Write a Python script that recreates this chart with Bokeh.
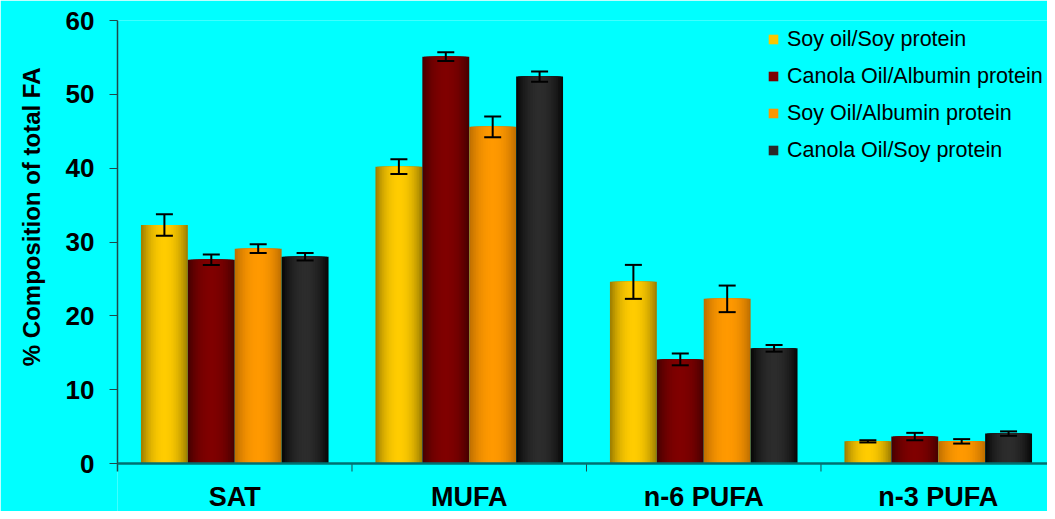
import numpy as np
from bokeh.plotting import figure
from bokeh.models import (ColumnDataSource, Range1d, FixedTicker, Whisker, TeeHead,
                          Legend, LegendItem, Span, Title)
from bokeh.core.properties import value
from bokeh.embed import file_html
from bokeh.resources import INLINE

categories = ["SAT", "MUFA", "n-6 PUFA", "n-3 PUFA"]
series_names = ["Soy oil/Soy protein", "Canola Oil/Albumin protein",
                "Soy Oil/Albumin protein", "Canola Oil/Soy protein"]

soy_soy = [32.3, 40.2, 24.6, 3.0]
soy_soy_err = [1.45, 1.0, 2.3, 0.15]
canola_albumin = [27.6, 55.1, 14.1, 3.65]
canola_albumin_err = [0.7, 0.6, 0.8, 0.5]
soy_albumin = [29.1, 45.6, 22.3, 3.0]
soy_albumin_err = [0.6, 1.4, 1.8, 0.3]
canola_soy = [28.0, 52.4, 15.6, 4.05]
canola_soy_err = [0.5, 0.7, 0.45, 0.3]

y_ticks = [0, 10, 20, 30, 40, 50, 60]

values = [soy_soy, canola_albumin, soy_albumin, canola_soy]
errors = [soy_soy_err, canola_albumin_err, soy_albumin_err, canola_soy_err]
# (edge colour, centre colour) for the horizontal bar gradient
shades = [((160, 128, 0), (255, 204, 0)),
          ((72, 0, 0), (128, 0, 0)),
          ((192, 112, 0), (255, 153, 0)),
          ((8, 8, 8), (44, 44, 44))]

FONT = "Liberation Sans"
BG = "#00FFFF"
AXIS_COL = "#204848"

# layout in pixels: frame top, pixel row of the zero line, figure height
W, H = 1047, 511
TOP, ZERO = 20, 463
ppu = (ZERO - TOP) / 60.0          # pixels per y unit
y_start = -(H - ZERO) / ppu        # frame extends below zero to hold the category names

p = figure(width=W, height=H, output_backend="svg", toolbar_location=None,
           x_range=Range1d(0, 3.966), y_range=Range1d(y_start, 60),
           min_border_left=116, min_border_right=0, min_border_top=TOP,
           min_border_bottom=0, background_fill_color=BG,
           border_fill_color=BG, outline_line_color=None, x_axis_location=None)
p.xgrid.visible = False
p.ygrid.visible = False

bar_w = 0.2
n_layers = 14
legend_items = []
for i, (vals, errs, (edge, centre), name) in enumerate(zip(values, errors, shades, series_names)):
    off = (i - 1.5) * bar_w
    xs, ws, tops, cols = [], [], [], []
    for k in range(n_layers):
        d = 1 - k / n_layers
        g = 1 - d ** 2.2
        col = "#%02x%02x%02x" % tuple(int(round(e + (m - e) * g)) for e, m in zip(edge, centre))
        for c, v in enumerate(vals):
            xs.append(c + 0.5 + off)
            ws.append(bar_w * d)
            tops.append(v)
            cols.append(col)
    src = ColumnDataSource(dict(x=xs, w=ws, top=tops, color=cols))
    r = p.vbar(x="x", top="top", bottom=0, width="w", fill_color="color",
               line_color=None, source=src)
    legend_items.append(LegendItem(label=name, renderers=[r], index=(n_layers - 4) * 4))

    wsrc = ColumnDataSource(dict(
        base=[c + 0.5 + off for c in range(4)],
        upper=[v + e for v, e in zip(vals, errs)],
        lower=[v - e for v, e in zip(vals, errs)]))
    w = Whisker(base="base", upper="upper", lower="lower", source=wsrc,
                line_color="black", line_width=2, level="annotation",
                upper_head=TeeHead(size=17, line_width=2, line_color="black"),
                lower_head=TeeHead(size=17, line_width=2, line_color="black"))
    p.add_layout(w)

# y axis
p.yaxis.ticker = FixedTicker(ticks=y_ticks)
p.yaxis.bounds = (-8 / ppu, 60)
p.yaxis.minor_tick_line_color = None
p.yaxis.major_tick_out = 8
p.yaxis.major_tick_in = 0
p.yaxis.major_tick_line_color = AXIS_COL
p.yaxis.axis_line_color = AXIS_COL
p.yaxis.axis_line_width = 1.5
p.yaxis.major_label_text_font = FONT
p.yaxis.major_label_text_font_style = "bold"
p.yaxis.major_label_text_font_size = "26px"
p.yaxis.major_label_text_color = "black"
p.yaxis.major_label_standoff = 15

ylab = Title(text="% Composition of total FA", align="right", offset=47,
             vertical_align="middle", standoff=33, text_font=FONT,
             text_font_style="bold", text_font_size="24px", text_color="black")
p.add_layout(ylab, "left")

# x axis line at zero, boundary ticks, category names
p.add_layout(Span(location=0, dimension="width", line_color="#007070", line_width=2.5,
                  level="annotation"))
p.ray(x=[1, 2, 3], y=[0, 0, 0], length=8, length_units="screen", angle=-np.pi / 2,
      line_color=AXIS_COL, line_width=1)
cat_src = ColumnDataSource(dict(x=[c + 0.5 for c in range(len(categories))],
                                y=[0] * len(categories), text=categories))
p.text(x="x", y="y", text="text", source=cat_src, y_offset=48, text_align="center",
       text_baseline="bottom", text_font=value(FONT), text_font_style="bold",
       text_font_size="27px", text_color="black")

legend = Legend(items=legend_items, location=(650, 300 + (H - ZERO)), orientation="vertical",
                background_fill_alpha=0, border_line_color=None, padding=0, margin=0,
                glyph_width=12, glyph_height=12, label_height=26, spacing=11,
                label_standoff=8, label_text_font=FONT, label_text_font_size="21.5px",
                label_text_color="black")
p.add_layout(legend)

open("out.html", "w").write(file_html(p, INLINE))
